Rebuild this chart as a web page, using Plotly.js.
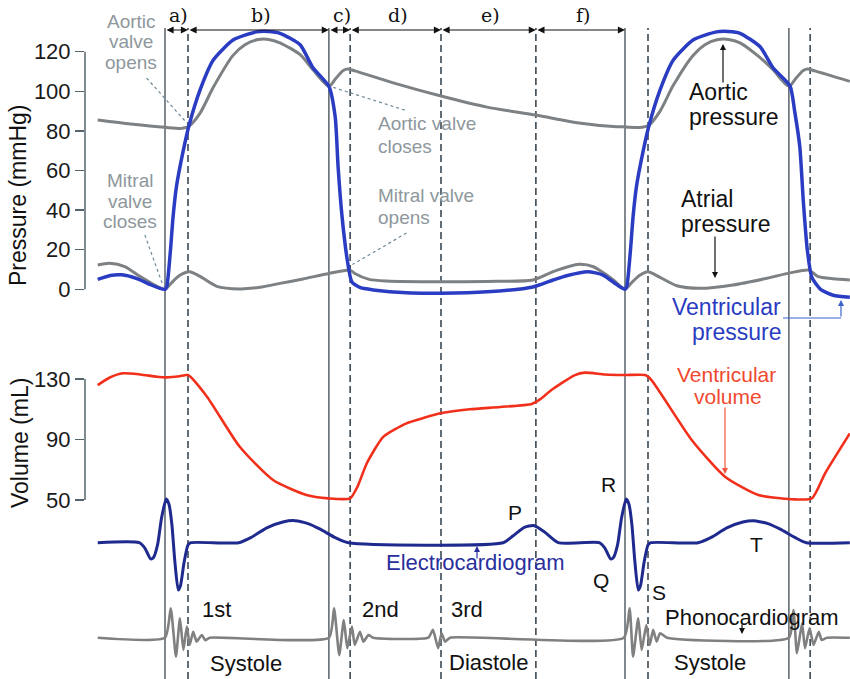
<!DOCTYPE html>
<html>
<head>
<meta charset="utf-8">
<script src="https://cdn.plot.ly/plotly-3.0.1.min.js"></script>
<style>
  html, body { margin: 0; padding: 0; background: #ffffff; }
  #chart { width: 850px; height: 679px; }
</style>
</head>
<body>
<div id="chart"></div>
<script>
// Wiggers diagram: two cardiac cycles, time in ms measured from the R wave (cycle = 800 ms)

// Aortic pressure (mmHg)
const aorticT = [-117,-60,0,30,42,61,84,118,139,160,180,200,235,257,285,297,310,318,330,400,480,560,645,720,780,800,830,842,861,884,918,939,960,980,1000,1035,1057,1085,1097,1110,1118,1130,1191];
const aorticP = [85.5,83.5,81.8,81.3,82.5,89,102,118,123.5,126,126.2,124.5,118.5,111,102.5,106.5,110.5,111.2,110.3,104,97.6,92,88,84,82.2,82,81.8,83,90,103,118,123.5,126,126.2,124.5,117,111,102.5,106.5,110.5,111.2,110.3,105];

// Left ventricular pressure (mmHg)
const ventT = [-117,-95,-75,-50,-25,-10,0,3,9,14,20,32,42,61,84,119,159,180,200,235,257,285,296,301,308,317,325,340,362,420,480,560,640,675,700,735,762,785,800,803,809,814,820,832,842,861,884,919,959,980,1000,1035,1057,1087,1095,1104,1110,1117,1125,1140,1162,1191];
const ventP = [5,7,7.3,5.5,2.3,0.6,0,1.3,18,36.5,52,70.4,83,100.7,115.8,126,130,130.2,129.3,123.5,112,102.5,87,62,36.5,14.8,3.7,0.8,-0.3,-1.8,-2,-1.3,1.2,4.7,7,8.9,7.2,2.5,0,1.3,18,36.5,52,70.4,83,100.7,115.8,126,130,130.2,129.3,122.5,112,102.7,90,72,45,20,6,0,-3,-4];

// Left atrial pressure (mmHg)
const atrialT = [-117,-96,-70,-43,-17,0,12,25,43,61,90,130,165,200,240,285,322,330,355,385,480,560,640,675,720,745,780,800,812,825,840,861,890,930,988,1047,1087,1120,1135,1162,1191];
const atrialP = [12.3,13.1,11.5,6.4,2,0,3.5,7,8.9,6.5,1.5,0.2,1,3,5.2,8,9.7,8,5,4.2,3.8,4,4.7,8.9,12.6,11.4,4.7,0,3.5,7,8.9,6,1.8,0.5,2.2,5.6,8.3,9.7,6.5,5.3,4.7];

// Ventricular volume (mL)
const volT = [-117,-96,-73,-43,-14,3,25,40,73,130,188,246,284,322,335,351,380,420,452,481,530,583,638,652,672,713,730,765,800,835,846,916,974,1032,1090,1125,1148,1191];
const volV = [126,131,133.8,133,131.5,131.1,131.8,132.6,118.3,85.2,63.2,53.3,51.1,51.1,59,74.3,91.9,100.7,104.5,107.5,110,111.5,113.5,116.5,122.7,132.6,134.2,133,132.6,132.6,129.3,89.7,65.4,53.3,50.5,51.1,67.6,94];

// Electrocardiogram (relative amplitude, R peak ~ 1)
const ecgT = [-117,-45,-35,-25,-20,-13,-6,2,7,12,17,23,27,33,40,45,128,150,177,205,226,250,270,295,319,588,605,625,641,660,684,755,765,775,780,787,794,802,807,812,817,823,827,833,840,845,927,950,977,1005,1023,1050,1070,1095,1115,1191];
const ecgV = [0,0,-0.12,-0.36,-0.33,-0.05,0.55,0.97,0.85,0.4,-0.4,-1.05,-0.95,-0.45,-0.05,0,0,0.12,0.33,0.46,0.49,0.42,0.3,0.12,0,0,0.15,0.34,0.38,0.24,0,0,-0.12,-0.36,-0.33,-0.05,0.55,0.97,0.85,0.4,-0.4,-1.05,-0.95,-0.45,-0.05,0,0,0.12,0.33,0.46,0.49,0.42,0.3,0.12,0,0];

// Phonocardiogram (relative amplitude)
const phonoT = [-117,0,10,19,26,32,38,43,49,55,64,70,78,285,294,303,311,317,325,330,339,345,354,362,458,466,475,481,487,496,798,808,814,823,829,837,843,849,855,861,873,1085,1093,1099,1108,1113,1121,1128,1137,1142,1151,1191];
const phonoV = [0,0,0.98,-0.63,0.65,-0.41,0.37,-0.24,0.2,-0.13,0.09,-0.08,0,0,0.98,-0.58,0.59,-0.35,0.37,-0.24,0.2,-0.13,0.09,0,0,0.26,-0.35,0.15,-0.13,0,0,0.98,-0.63,0.65,-0.41,0.42,-0.24,0.26,-0.13,0.15,0,0,0.92,-0.52,0.48,-0.35,0.31,-0.24,0.2,-0.08,0,0];

// Event markers and phases (ms)
const solidMarks = [0, 285, 800, 1085];
const dashedMarks = [40, 322, 480, 645, 840, 1122];
const phaseEdges = [0, 40, 285, 322, 480, 645, 800];
const phaseNames = ['a)', 'b)', 'c)', 'd)', 'e)', 'f)'];

// Axis ticks
const pressureTicks = [0, 20, 40, 60, 80, 100, 120];
const volumeTicks = [50, 90, 130];

// ---------- layout helpers ----------
const W = 850, H = 679, LM = 85;
const FONT = 'Liberation Sans, Arial, Helvetica, sans-serif';
const px = v => (v - LM) / (W - LM);      // horizontal pixel -> paper
const py = v => 1 - v / H;                 // vertical pixel -> paper
// y-axis range so that value v1 sits at pixel p1 and v2 at pixel p2
function spanFor(p1, v1, p2, v2) {
  const s = (v2 - v1) / (p1 - p2);
  return [v1 - (H - p1) * s, v1 + p1 * s];
}
const tLeft = -139.13, tRight = 1191.3;

const GRAY = '#7d8184', BLUE = '#2a3cc2', RED = '#f1301c', NAVY = '#1f2a8e';
const LABEL_GRAY = '#8e979c';

const traces = [
  { x: aorticT, y: aorticP, yaxis: 'y', mode: 'lines', line: { color: GRAY, width: 3, shape: 'spline', smoothing: 0.7 } },
  { x: atrialT, y: atrialP, yaxis: 'y', mode: 'lines', line: { color: GRAY, width: 3, shape: 'spline', smoothing: 0.7 } },
  { x: ventT, y: ventP, yaxis: 'y', mode: 'lines', line: { color: BLUE, width: 3.5, shape: 'spline', smoothing: 0.6 } },
  { x: volT, y: volV, yaxis: 'y2', mode: 'lines', line: { color: RED, width: 2.6, shape: 'spline', smoothing: 0.6 } },
  { x: ecgT, y: ecgV, yaxis: 'y3', mode: 'lines', line: { color: NAVY, width: 3, shape: 'spline', smoothing: 0.6 } },
  { x: phonoT, y: phonoV, yaxis: 'y4', mode: 'lines', line: { color: '#808080', width: 2.6, shape: 'spline', smoothing: 0.5 } }
];

const shapes = [];
const topY = py(28);
solidMarks.forEach(t => shapes.push({ type: 'line', xref: 'x', yref: 'paper', x0: t, x1: t, y0: 0, y1: topY, layer: 'below', line: { color: '#4b575f', width: 1.4 } }));
dashedMarks.forEach(t => shapes.push({ type: 'line', xref: 'x', yref: 'paper', x0: t, x1: t, y0: 0, y1: topY, layer: 'below', line: { color: '#3c4953', width: 1.6, dash: '7px,4px' } }));
// axis spines limited to the labelled range
shapes.push({ type: 'line', xref: 'paper', yref: 'y', x0: 0, x1: 0, y0: 0, y1: 120, line: { color: '#56646d', width: 1.5 } });
shapes.push({ type: 'line', xref: 'paper', yref: 'y2', x0: 0, x1: 0, y0: 50, y1: 130, line: { color: '#56646d', width: 1.5 } });
// leader lines from the valve notes to the curves
const leader = (t0, p0, t1, p1) => shapes.push({ type: 'line', xref: 'x', yref: 'y', x0: t0, y0: p0, x1: t1, y1: p1, line: { color: '#6d8896', width: 1.2, dash: 'dot' } });
leader(-32, 106.7, 38, 84);
leader(-35, 27.4, -3, 1.5);
leader(417, 90.5, 287, 102.5);
leader(420, 28.4, 326, 12.5);
// connector under "Ventricular pressure"
shapes.push({ type: 'line', xref: 'paper', yref: 'paper', x0: px(783), x1: px(841), y0: py(318), y1: py(318), line: { color: '#3d63c9', width: 1.1 } });

const annotations = [];
function label(text, x, y, size, color, anchor, extra) {
  annotations.push(Object.assign({ text, xref: 'paper', yref: 'paper', x: px(x), y: py(y), xanchor: anchor || 'center', yanchor: 'middle', showarrow: false, font: { family: FONT, size, color } }, extra || {}));
}
function pointer(x, y, dx, dy, color) {
  annotations.push({ text: '', xref: 'paper', yref: 'paper', x: px(x), y: py(y), ax: dx, ay: dy, showarrow: true, arrowhead: 2, arrowsize: 1, arrowwidth: 1.2, arrowcolor: color });
}

// phase spans across the top
for (let i = 0; i < phaseNames.length; i++) {
  annotations.push({ text: '', xref: 'x', yref: 'paper', x: phaseEdges[i + 1], y: py(30), axref: 'x', ax: phaseEdges[i], ayref: 'pixel', ay: 0, showarrow: true, arrowside: 'end+start', arrowhead: 2, arrowsize: 1.3, arrowwidth: 1.1, arrowcolor: '#111' });
  annotations.push({ text: phaseNames[i], xref: 'x', yref: 'paper', x: (phaseEdges[i] + phaseEdges[i + 1]) / 2 + 4, y: py(15), xanchor: 'center', yanchor: 'middle', showarrow: false, font: { family: 'DejaVu Serif, Liberation Serif, serif', size: 19, color: '#111' } });
}

// axis titles
label('Pressure (mmHg)', 18, 196, 23, '#111', 'center', { textangle: -90 });
label('Volume (mL)', 20, 443, 23, '#111', 'center', { textangle: -90 });

// valve notes
label('Aortic', 131, 21.5, 19, LABEL_GRAY);
label('valve', 131, 41, 19, LABEL_GRAY);
label('opens', 131, 62, 19, LABEL_GRAY);
label('Mitral', 130, 181, 19, LABEL_GRAY);
label('valve', 130, 201, 19, LABEL_GRAY);
label('closes', 130, 222, 19, LABEL_GRAY);
label('Aortic valve', 376, 123, 19, LABEL_GRAY, 'left');
label('closes', 376, 146, 19, LABEL_GRAY, 'left');
label('Mitral valve', 376, 196, 19, LABEL_GRAY, 'left');
label('opens', 376, 218, 19, LABEL_GRAY, 'left');

// curve names
label('Aortic', 687, 92, 23, '#111', 'left');
label('pressure', 687, 117, 23, '#111', 'left');
pointer(723, 44, 0, 40, '#111');
label('Atrial', 679, 199, 23, '#111', 'left');
label('pressure', 679, 224, 23, '#111', 'left');
pointer(715, 278, 0, -43, '#111');
label('Ventricular', 783, 307, 23, BLUE, 'right');
label('pressure', 783, 332, 23, BLUE, 'right');
pointer(841, 300, 0, 18, '#3d63c9');
label('Ventricular', 726, 374, 21, '#f0492e');
label('volume', 728, 396, 21, '#f0492e');
pointer(725, 474, 0, -68, '#f0553a');

// ECG waves
label('P', 515, 512, 21, '#111');
label('R', 608, 484, 21, '#111');
label('Q', 601, 580, 21, '#111');
label('S', 659, 592, 21, '#111');
label('T', 756, 544, 21, '#111');
label('Electrocardiogram', 475, 562, 22, '#2a2f9c');
pointer(477, 546, 0, 14, '#2a2f9c');

// heart sounds and phases
label('1st', 216, 609, 22, '#111');
label('2nd', 380, 609, 22, '#111');
label('3rd', 467, 609, 22, '#111');
label('Phonocardiogram', 752, 617, 22, '#111');
pointer(742, 634, 0, -11, '#111');
label('Systole', 246, 663, 22, '#111');
label('Diastole', 488, 662, 22, '#111');
label('Systole', 710, 662, 22, '#111');

const tickFont = { family: FONT, size: 22, color: '#1a1a1a' };
const layout = {
  width: W, height: H,
  margin: { l: LM, r: 0, t: 0, b: 0, pad: 0 },
  paper_bgcolor: '#ffffff', plot_bgcolor: '#ffffff',
  showlegend: false,
  xaxis: { range: [tLeft, tRight], visible: false, fixedrange: true },
  yaxis: { range: spanFor(289.3, 0, 51.7, 120), domain: [0, 1], tickvals: pressureTicks, ticks: 'outside', ticklen: 9, tickwidth: 1.5, tickcolor: '#56646d', tickfont: tickFont, showgrid: false, zeroline: false, showline: false },
  yaxis2: { range: spanFor(500, 50, 379, 130), overlaying: 'y', anchor: 'x', side: 'left', tickvals: volumeTicks, ticks: 'outside', ticklen: 9, tickwidth: 1.5, tickcolor: '#56646d', tickfont: tickFont, showgrid: false, zeroline: false, showline: false },
  yaxis3: { range: spanFor(542.7, 0, 497.7, 1), overlaying: 'y', anchor: 'x', visible: false },
  yaxis4: { range: spanFor(637.7, 0, 607.7, 1), overlaying: 'y', anchor: 'x', visible: false },
  shapes, annotations
};

Plotly.newPlot('chart', traces, layout, { displayModeBar: false, staticPlot: true });
</script>
</body>
</html>
